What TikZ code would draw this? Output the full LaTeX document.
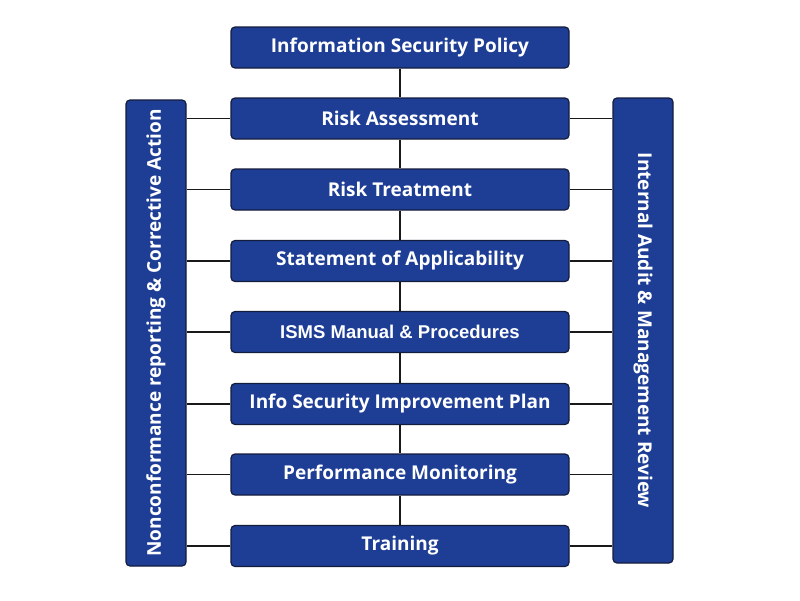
\documentclass[tikz,border=0pt]{standalone}
\usepackage{fontspec}
\setmainfont{Open Sans}
\newfontfamily\arialfont{Liberation Sans}
\definecolor{boxblue}{RGB}{30,62,150}
\definecolor{boxedge}{RGB}{20,28,60}
\definecolor{linec}{RGB}{25,25,25}
\begin{document}
\begin{tikzpicture}[x=1pt,y=-1pt,
  stepbox/.style={draw=boxedge,line width=1.2pt,fill=boxblue,rounded corners=4pt,
    minimum width=338pt,minimum height=41pt,text=white,font=\fontsize{19}{21}\selectfont\bfseries,inner sep=0pt},
  sidebar/.style={draw=boxedge,line width=1.2pt,fill=boxblue,rounded corners=4pt,
    minimum width=60pt,text=white,inner sep=0pt},
  sidetext/.style={text=white,font=\fontsize{19}{21}\selectfont\bfseries},
  conn/.style={draw=linec,line width=1.3pt}]
\useasboundingbox (0,0) rectangle (800,600);
\node[sidebar,minimum height=466pt] (L) at (156,333) {};
\node[rotate=90,sidetext] (Lt) at (L.center) {Nonconformance reporting \& Corrective Action};
\node[sidebar,minimum height=465pt] (R) at (643,330.5) {};
\node[rotate=-90,sidetext] (Rt) at (R.center) {Internal Audit \& Management Review};
\node[stepbox] (b0) at (400,47.5) {Information Security Policy};
\node[stepbox] (b1) at (400,118.5) {Risk Assessment};
\node[stepbox] (b2) at (400,189.5) {Risk Treatment};
\node[stepbox] (b3) at (400,261) {Statement of Applicability};
\node[stepbox,font=\arialfont\fontsize{18.5}{20}\selectfont\bfseries] (b4) at (400,332) {ISMS Manual \& Procedures};
\node[stepbox] (b5) at (400,404) {Info Security Improvement Plan};
\node[stepbox] (b6) at (400,474.5) {Performance Monitoring};
\node[stepbox] (b7) at (400,546) {Training};
\foreach \a/\b in {b0/b1,b1/b2,b2/b3,b3/b4,b4/b5,b5/b6,b6/b7}{
  \draw[conn] (\a.south) -- (\b.north);
}
\foreach \b in {b1,b2,b3,b4,b5,b6,b7}{
  \draw[conn] (\b.west) -- (\b.west -| L.east);
  \draw[conn] (\b.east) -- (\b.east -| R.west);
}
\end{tikzpicture}
\end{document}
